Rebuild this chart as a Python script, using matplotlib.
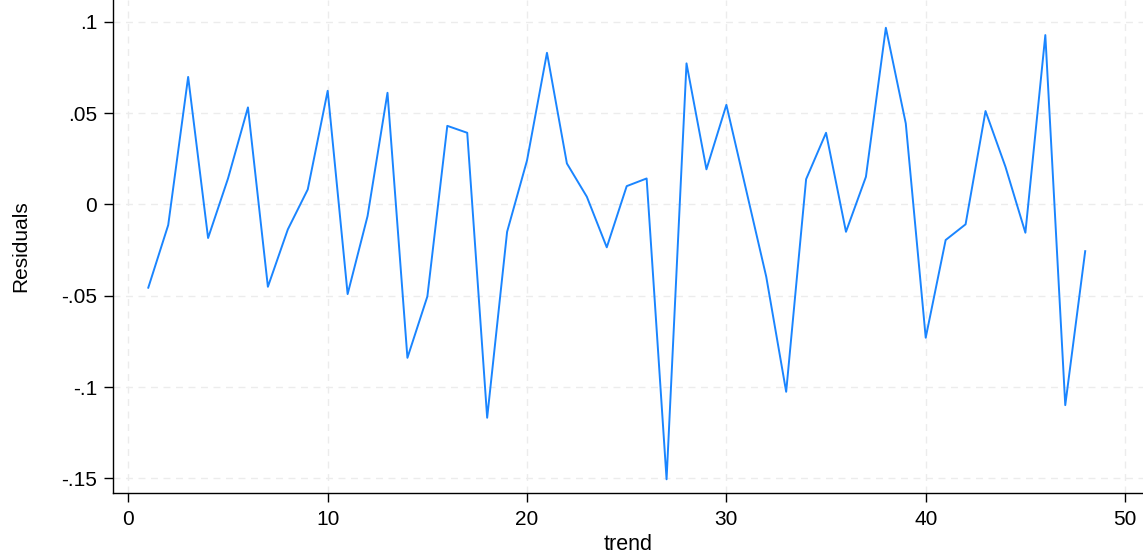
import matplotlib
matplotlib.use("Agg")
import matplotlib.pyplot as plt

trend = list(range(1, 49))
residuals = [
    -0.0456, -0.0113, 0.0698, -0.0184, 0.0142, 0.0531, -0.0451, -0.0137, 0.0082, 0.0622,
    -0.0491, -0.0064, 0.0611, -0.0840, -0.0504, 0.0430, 0.0392, -0.1168, -0.0150, 0.0241,
    0.0830, 0.0224, 0.0042, -0.0235, 0.0100, 0.0142, -0.1505, 0.0772, 0.0192, 0.0545,
    0.0075, -0.0396, -0.1026, 0.0138, 0.0392, -0.0150, 0.0151, 0.0967, 0.0443, -0.0730,
    -0.0195, -0.0109, 0.0511, 0.0206, -0.0155, 0.0927, -0.1099, -0.0256,
]
xticks = [0, 10, 20, 30, 40, 50]
yticks = [-0.15, -0.1, -0.05, 0, 0.05, 0.1]
yticklabels = ["-.15", "-.1", "-.05", "0", ".05", ".1"]

plt.rcParams['font.family'] = ['Liberation Sans', 'DejaVu Sans']

W, H = 1143, 554
fig = plt.figure(figsize=(W / 100, H / 100), dpi=100)
left, right, top, bottom = 113, 1143, 0, 493
ax = fig.add_axes([left / W, 1 - bottom / H, (right - left) / W, (bottom - top) / H])

ax.plot(trend, residuals, color="#1a85ff", lw=1.4)

ax.set_xlim(-0.77, 50.9)
ax.set_ylim(-0.158, 0.1119)
ax.set_xticks(xticks)
ax.set_yticks(yticks)
ax.set_yticklabels(yticklabels)
ax.grid(True, color="#ececec", linestyle=(0, (5, 4)), lw=1.0)
ax.set_axisbelow(True)

for s in ["top", "right"]:
    ax.spines[s].set_visible(False)
for s in ["left", "bottom"]:
    ax.spines[s].set_color("black")
    ax.spines[s].set_linewidth(1.0)

ax.tick_params(axis="both", direction="out", length=6.5, width=1, labelsize=15, colors="black")
ax.tick_params(axis="y", pad=5)
ax.tick_params(axis="x", pad=6)

ax.set_xlabel("trend", fontsize=15.5, labelpad=3)
ax.set_ylabel("Residuals", fontsize=15, labelpad=22)

fig.savefig("out.png", dpi=100, facecolor="white")
